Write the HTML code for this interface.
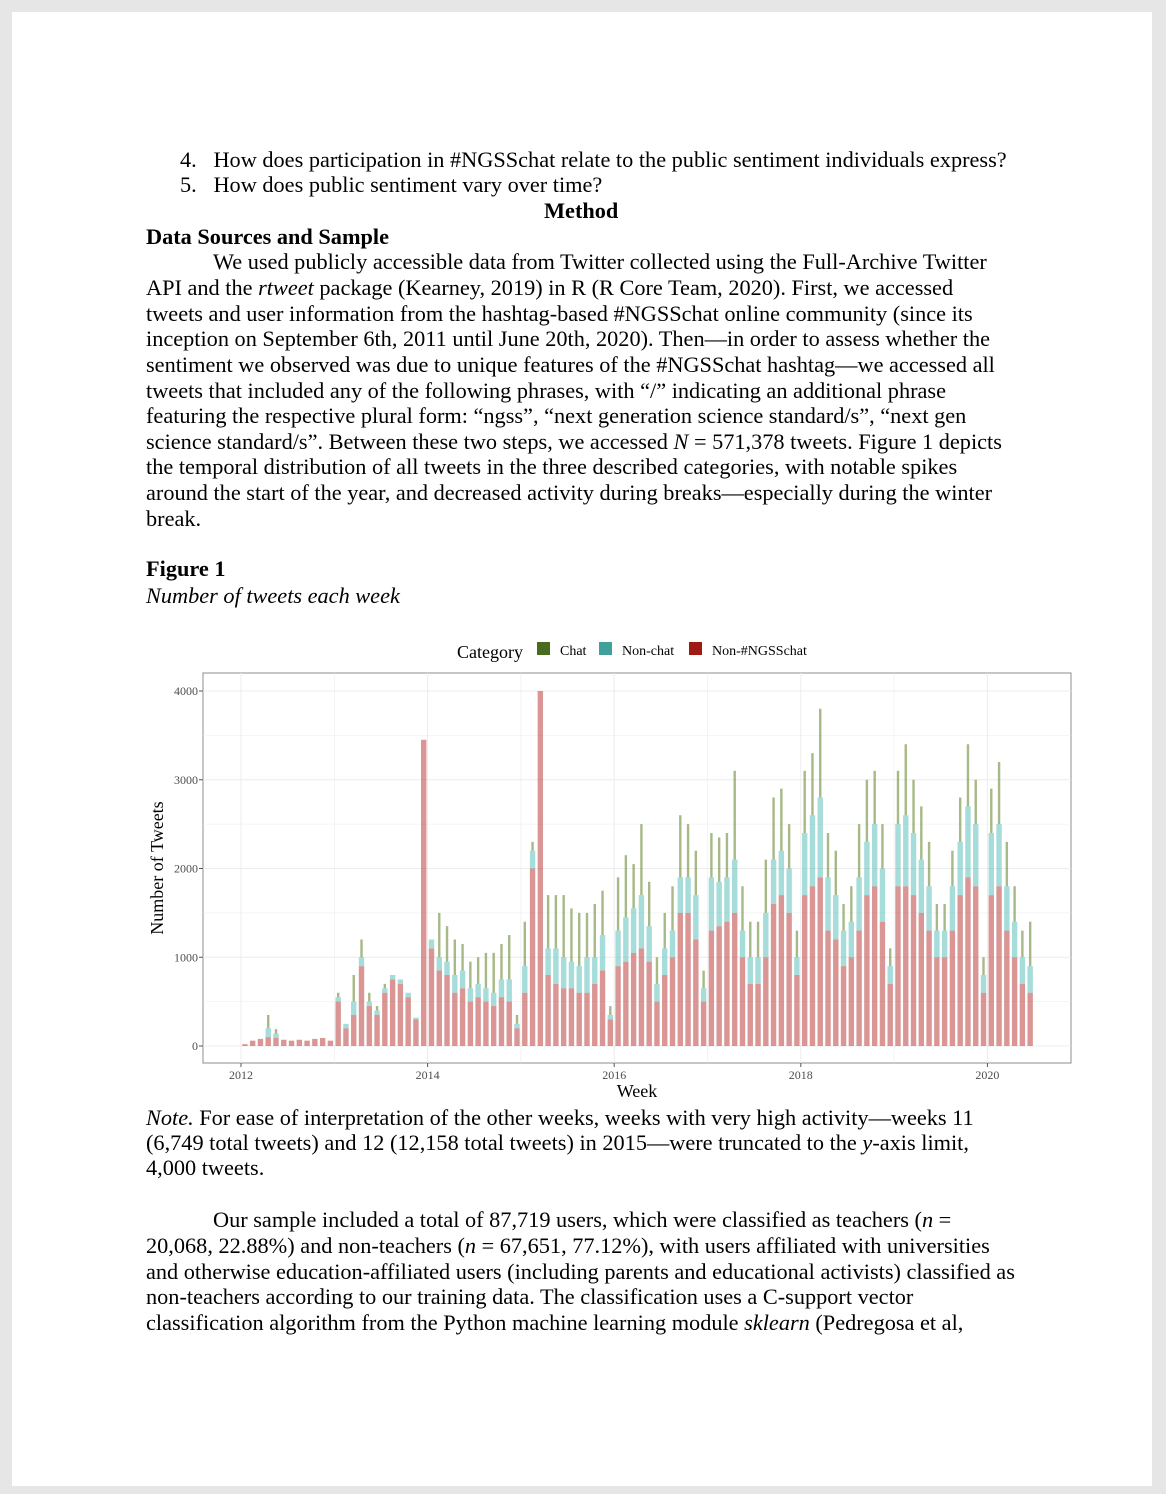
<!DOCTYPE html>
<html><head><meta charset="utf-8">
<style>
html,body{margin:0;padding:0;}
body{width:1166px;height:1494px;background:#e6e6e6;position:relative;overflow:hidden;font-family:"Liberation Serif",serif;}
#page{position:absolute;left:12px;top:12px;width:1140px;height:1474px;background:#fff;}
.l{position:absolute;white-space:nowrap;font-size:22.3px;line-height:24px;color:#000;}
.b{font-weight:bold;}
.i{font-style:italic;}
svg text{font-family:"Liberation Serif",serif;}
</style></head><body>
<div id="page"></div>
<div class="l" style="left:180px;top:148px">4.&nbsp;&nbsp; How does participation in #NGSSchat relate to the public sentiment individuals express?</div>
<div class="l" style="left:180px;top:173px">5.&nbsp;&nbsp; How does public sentiment vary over time?</div>
<div class="l b" style="left:544px;top:199px">Method</div>
<div class="l b" style="left:146px;top:225px">Data Sources and Sample</div>
<div>
<div class="l" style="left:213px;top:250px">We used publicly accessible data from Twitter collected using the Full-Archive Twitter</div>
<div class="l" style="left:146px;top:276px">API and the <span class="i">rtweet</span> package (Kearney, 2019) in R (R Core Team, 2020). First, we accessed</div>
<div class="l" style="left:146px;top:302px">tweets and user information from the hashtag-based #NGSSchat online community (since its</div>
<div class="l" style="left:146px;top:327px">inception on September 6th, 2011 until June 20th, 2020). Then—in order to assess whether the</div>
<div class="l" style="left:146px;top:353px">sentiment we observed was due to unique features of the #NGSSchat hashtag—we accessed all</div>
<div class="l" style="left:146px;top:379px">tweets that included any of the following phrases, with “/” indicating an additional phrase</div>
<div class="l" style="left:146px;top:404px">featuring the respective plural form: “ngss”, “next generation science standard/s”, “next gen</div>
<div class="l" style="left:146px;top:430px">science standard/s”. Between these two steps, we accessed <span class="i">N</span> = 571,378 tweets. Figure 1 depicts</div>
<div class="l" style="left:146px;top:455px">the temporal distribution of all tweets in the three described categories, with notable spikes</div>
<div class="l" style="left:146px;top:481px">around the start of the year, and decreased activity during breaks—especially during the winter</div>
<div class="l" style="left:146px;top:507px">break.</div>
</div>
<div class="l b" style="left:146px;top:557px">Figure 1</div>
<div class="l i" style="left:146px;top:584px">Number of tweets each week</div>

<svg id="chart" style="position:absolute;left:0;top:0" width="1166" height="1494"></svg>

<div>
<div class="l" style="left:146px;top:1106px"><span class="i">Note.</span> For ease of interpretation of the other weeks, weeks with very high activity—weeks 11</div>
<div class="l" style="left:146px;top:1131px">(6,749 total tweets) and 12 (12,158 total tweets) in 2015—were truncated to the <span class="i">y</span>-axis limit,</div>
<div class="l" style="left:146px;top:1156px">4,000 tweets.</div>
</div>
<div>
<div class="l" style="left:213px;top:1208px">Our sample included a total of 87,719 users, which were classified as teachers (<span class="i">n</span> =</div>
<div class="l" style="left:146px;top:1234px">20,068, 22.88%) and non-teachers (<span class="i">n</span> = 67,651, 77.12%), with users affiliated with universities</div>
<div class="l" style="left:146px;top:1260px">and otherwise education-affiliated users (including parents and educational activists) classified as</div>
<div class="l" style="left:146px;top:1285px">non-teachers according to our training data. The classification uses a C-support vector</div>
<div class="l" style="left:146px;top:1311px">classification algorithm from the Python machine learning module <span class="i">sklearn</span> (Pedregosa et al,</div>
</div>

<script>
// monthly data, Jan 2012 .. Jun 2020
const startYear = 2012;
const nonNgss = [20,60,80,100,90,70,60,70,60,80,90,60,
 500,200,350,900,450,350,600,750,700,550,300,3450,
 1100,850,800,600,650,500,550,500,450,550,500,200,
 600,2000,4000,800,700,650,650,600,600,700,850,300,
 900,950,1050,1100,950,500,800,1000,1500,1500,1200,500,
 1300,1350,1400,1500,1000,700,700,1000,1600,1700,1500,800,
 1700,1800,1900,1300,1200,900,1000,1300,1700,1800,1400,700,
 1800,1800,1700,1500,1300,1000,1000,1300,1700,1900,1800,600,
 1700,1800,1300,1000,700,600];
const nonChat = [0,0,0,100,50,0,0,0,0,0,0,0,
 50,50,150,100,50,50,50,50,50,50,20,0,
 100,150,150,200,200,150,150,150,150,200,250,50,
 300,200,0,300,400,350,300,300,400,300,400,50,
 400,500,500,600,400,200,300,300,400,400,500,150,
 600,500,500,600,300,300,300,500,500,500,500,200,
 700,800,900,600,500,400,400,600,600,700,600,200,
 700,800,700,600,500,300,300,500,600,800,700,200,
 700,700,500,400,300,300];
const chat = [0,0,0,150,50,0,0,0,0,0,0,0,
 50,0,300,200,100,50,50,0,0,0,0,0,
 0,500,400,400,300,300,300,400,450,400,500,100,
 500,100,0,600,600,700,600,600,500,600,500,100,
 600,700,500,800,500,300,400,500,700,600,500,200,
 500,500,500,1000,500,400,400,600,700,700,500,300,
 700,700,1000,500,500,300,400,600,700,600,500,200,
 600,800,600,600,500,300,300,400,500,700,500,200,
 500,700,500,400,300,500];
const yTicks = [0,1000,2000,3000,4000];
const xTicks = [2012,2014,2016,2018,2020];
const legendLabels = ["Chat","Non-chat","Non-#NGSSchat"];

const svg = document.getElementById('chart');
const NS = 'http://www.w3.org/2000/svg';
function el(tag, attrs, parent){const e=document.createElementNS(NS,tag);for(const k in attrs)e.setAttribute(k,attrs[k]);(parent||svg).appendChild(e);return e;}
const PL=203,PR=1071,PT=673,PB=1063;
const xScale = t => 241 + (t-2012)*93.3;
const yScale = v => 1046 - Math.min(v,4000)*0.08875;

const panel = el('rect',{x:PL,y:PT,width:PR-PL,height:PB-PT,fill:'#fff',stroke:'#8c8c8c','stroke-width':1});


for(let v=0; v<=4000; v+=500){
  const g=el('line',{x1:PL,x2:PR,y1:yScale(v),y2:yScale(v),stroke:'#ececec','stroke-width':v%1000?0.6:1});
  
  
}
for(let y=2012; y<=2020; y++){
  const g=el('line',{x1:xScale(y),x2:xScale(y),y1:PT,y2:PB,stroke:'#ececec','stroke-width':y%2?0.6:1});
  
  
}
const bw = 5.4;
for(let i=0;i<nonNgss.length;i++){
  const t = startYear + (i+0.5)/12;
  const x = xScale(t)-bw/2;
  const r = nonNgss[i], n = nonChat[i], c = chat[i];
  const b1=el('rect',{x:x,y:yScale(r),width:bw,height:yScale(0)-yScale(r),fill:'#c0504d','fill-opacity':0.6});
  
  
  if(n>0 && r<4000){
    const b2=el('rect',{x:x,y:yScale(r+n),width:bw,height:yScale(r)-yScale(r+n),fill:'#5cbfbb','fill-opacity':0.55});
    
    
  }
  if(c>0 && r+n<4000){
    const b3=el('rect',{x:x+1.5,y:yScale(r+n+c),width:bw-3,height:yScale(r+n)-yScale(r+n+c),fill:'#6b8a35','fill-opacity':0.6});
    
    
  }
}
yTicks.forEach(v=>{
  const tk=el('line',{x1:PL-4,x2:PL,y1:yScale(v),y2:yScale(v),stroke:'#555'});
  
  
  const tx=el('text',{x:PL-5,y:yScale(v)+4,'text-anchor':'end','font-size':12,fill:'#4d4d4d'});
  tx.textContent=v;
  
  
});
xTicks.forEach(v=>{
  const tk=el('line',{x1:xScale(v),x2:xScale(v),y1:PB,y2:PB+4,stroke:'#555'});
  
  
  const tx=el('text',{x:xScale(v),y:PB+16,'text-anchor':'middle','font-size':12,fill:'#4d4d4d'});
  tx.textContent=v;
  
  
});
const xt=el('text',{x:637,y:1097,'text-anchor':'middle','font-size':18,fill:'#000'});
xt.textContent='Week';


const yt=el('text',{x:0,y:0,'text-anchor':'middle','font-size':18,fill:'#000',transform:'translate(163,868) rotate(-90)'});
yt.textContent='Number of Tweets';


const lt=el('text',{x:457,y:658,'font-size':18,fill:'#000'});
lt.textContent='Category';


const legCols=['#4a6a1e','#40a09a','#a01a14'];
const legX=[537,599,689];
legendLabels.forEach((s,i)=>{
  const sq=el('rect',{x:legX[i],y:642,width:13,height:13,fill:legCols[i]});
  
  
  const tx=el('text',{x:legX[i]+23,y:655,'font-size':14,fill:'#000'});
  tx.textContent=s;
  
  
});
</script>
</body></html>
